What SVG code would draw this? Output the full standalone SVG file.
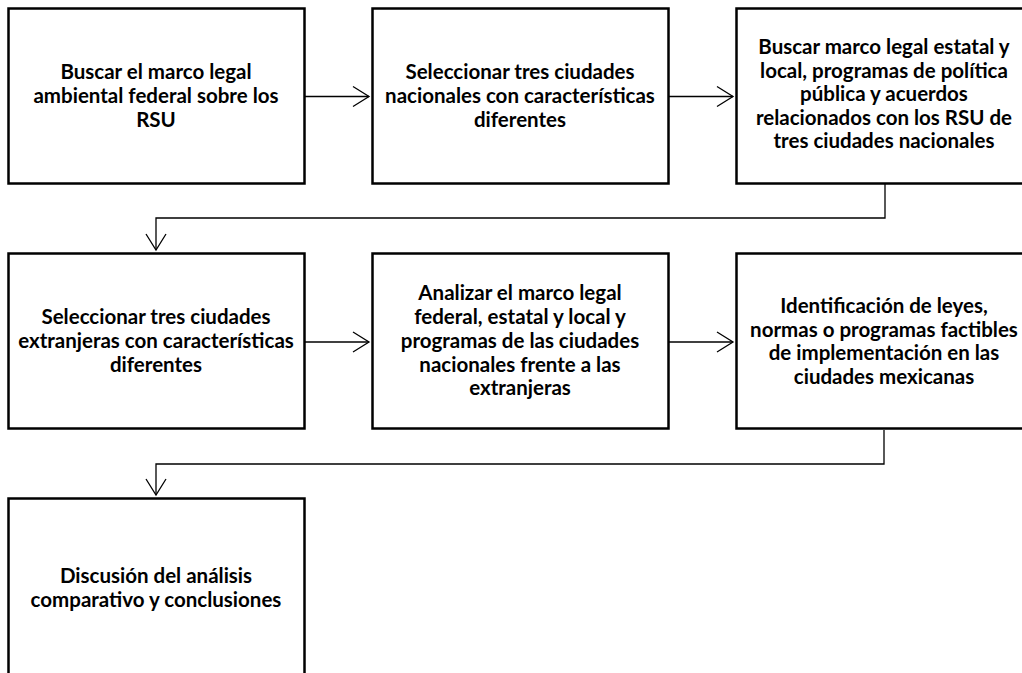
<svg xmlns="http://www.w3.org/2000/svg" width="1022" height="673" viewBox="0 0 1022 673">
<defs>
<style>
.box{fill:#fff;stroke:#000;stroke-width:2.5}
.t{font-family:Lato,"Open Sans","Liberation Sans",sans-serif;font-weight:bold;font-size:20.5px;fill:#000;text-anchor:middle}
.c{fill:none;stroke:#000;stroke-width:1.3}
</style>
<marker id="ah" markerUnits="userSpaceOnUse" markerWidth="24" markerHeight="24" viewBox="-20 -12 24 24" refX="0" refY="0" orient="auto">
<path d="M-16,-10 L0,0 L-16,10" fill="none" stroke="#000" stroke-width="1.3"/>
</marker>
</defs>
<rect width="1022" height="673" fill="#fff"/>
<g id="connectors">
<line class="c" x1="305" y1="96.5" x2="369" y2="96.5" marker-end="url(#ah)"/>
<line class="c" x1="669" y1="96.5" x2="733" y2="96.5" marker-end="url(#ah)"/>
<polyline class="c" points="885,184 885,218 156,218 156,250" marker-end="url(#ah)"/>
<line class="c" x1="305" y1="342" x2="369" y2="342" marker-end="url(#ah)"/>
<line class="c" x1="669" y1="342" x2="733" y2="342" marker-end="url(#ah)"/>
<polyline class="c" points="884,430 884,464 156,464 156,495" marker-end="url(#ah)"/>
</g>
<g id="n1">
<rect class="box" x="8.5" y="8.5" width="296" height="175"/>
<text class="t" x="156"><tspan x="156" y="79">Buscar el marco legal</tspan><tspan x="156" y="103">ambiental federal sobre los</tspan><tspan x="156" y="127">RSU</tspan></text>
</g>
<g id="n2">
<rect class="box" x="372.5" y="8.5" width="296" height="175"/>
<text class="t"><tspan x="520" y="79">Seleccionar tres ciudades</tspan><tspan x="520" y="103">nacionales con características</tspan><tspan x="520" y="127">diferentes</tspan></text>
</g>
<g id="n3">
<rect class="box" x="736.5" y="8.5" width="296" height="175"/>
<text class="t"><tspan x="884" y="54">Buscar marco legal estatal y</tspan><tspan x="884" y="77.5">local, programas de política</tspan><tspan x="884" y="101">pública y acuerdos</tspan><tspan x="884" y="124.5">relacionados con los RSU de</tspan><tspan x="884" y="148">tres ciudades nacionales</tspan></text>
</g>
<g id="n4">
<rect class="box" x="8.5" y="253.5" width="296" height="175"/>
<text class="t"><tspan x="156" y="324">Seleccionar tres ciudades</tspan><tspan x="156" y="348">extranjeras con características</tspan><tspan x="156" y="372">diferentes</tspan></text>
</g>
<g id="n5">
<rect class="box" x="372.5" y="253.5" width="296" height="175"/>
<text class="t"><tspan x="520" y="300">Analizar el marco legal</tspan><tspan x="520" y="324">federal, estatal y local y</tspan><tspan x="520" y="348">programas de las ciudades</tspan><tspan x="520" y="372">nacionales frente a las</tspan><tspan x="520" y="395">extranjeras</tspan></text>
</g>
<g id="n6">
<rect class="box" x="736.5" y="253.5" width="296" height="175"/>
<text class="t"><tspan x="884" y="313">Identificación de leyes,</tspan><tspan x="884" y="337">normas o programas factibles</tspan><tspan x="884" y="360">de implementación en las</tspan><tspan x="884" y="384">ciudades mexicanas</tspan></text>
</g>
<g id="n7">
<rect class="box" x="8.5" y="498.5" width="296" height="190"/>
<text class="t"><tspan x="156" y="583">Discusión del análisis</tspan><tspan x="156" y="607">comparativo y conclusiones</tspan></text>
</g>
</svg>
